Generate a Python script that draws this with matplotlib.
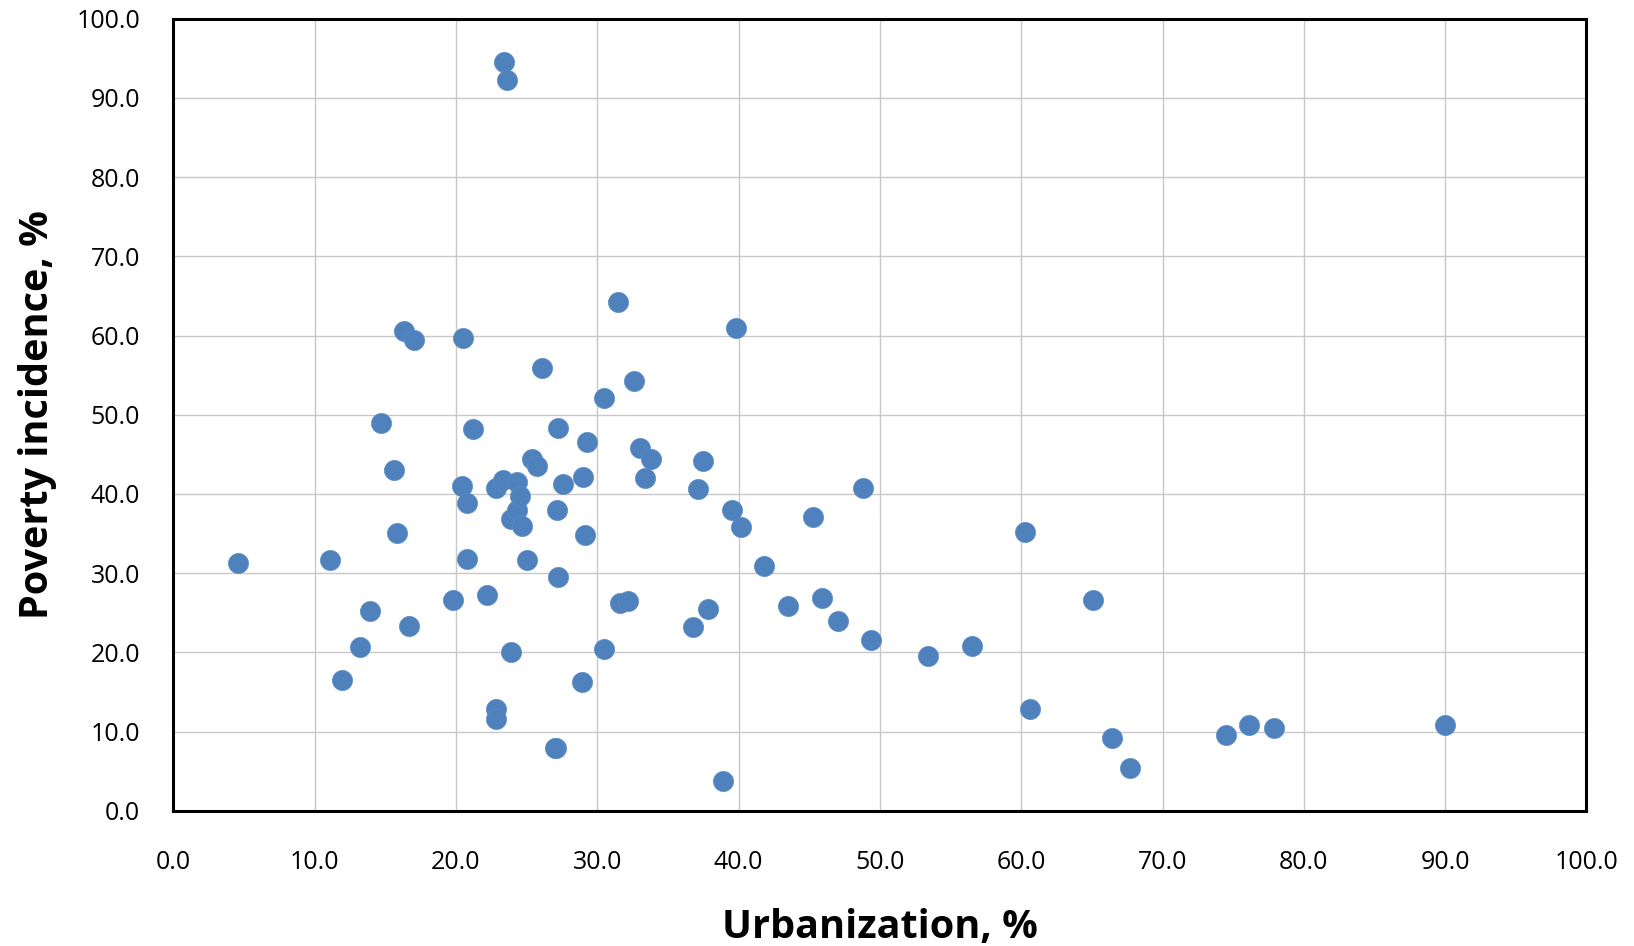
import numpy as np
import matplotlib
matplotlib.use('Agg')
import matplotlib.pyplot as plt

# urbanization (%) and poverty incidence (%)
urbanization = [4.6, 11.1, 11.9, 13.2, 13.9, 14.7, 15.6, 15.8, 16.3, 16.7,
                17.0, 19.8, 20.5, 20.45, 20.8, 20.8, 21.2, 22.2, 22.8, 22.8,
                22.8, 23.4, 23.6, 23.35, 23.9, 23.9, 24.3, 24.3, 24.5, 24.7,
                25.0, 25.4, 25.7, 26.1, 27.15, 27.1, 27.2, 27.0, 27.2, 27.6,
                28.9, 29.0, 29.1, 29.3, 30.45, 30.45, 31.5, 31.6, 32.2, 32.6,
                33.0, 33.4, 33.8, 36.8, 37.1, 37.5, 37.8, 38.9, 39.5, 39.8,
                40.2, 41.8, 43.5, 45.3, 45.9, 47.0, 48.8, 49.4, 53.4, 56.5,
                60.3, 60.6, 65.1, 66.4, 67.7, 74.5, 76.1, 77.9, 90.0]
poverty = [31.3, 31.7, 16.5, 20.7, 25.25, 49.0, 43.0, 35.1, 60.6, 23.3,
           59.4, 26.6, 59.7, 41.0, 38.85, 31.8, 48.2, 27.2, 40.7, 12.9,
           11.6, 94.5, 92.3, 41.7, 36.8, 20.0, 41.5, 37.97, 39.8, 35.9,
           31.6, 44.4, 43.5, 55.9, 38.0, 7.9, 48.3, 7.9, 29.5, 41.25,
           16.3, 42.2, 34.85, 46.6, 52.1, 20.4, 64.2, 26.2, 26.5, 54.3,
           45.8, 42.0, 44.4, 23.2, 40.6, 44.1, 25.5, 3.7, 38.0, 61.0,
           35.8, 30.9, 25.9, 37.1, 26.9, 23.9, 40.8, 21.6, 19.5, 20.8,
           35.2, 12.8, 26.6, 9.2, 5.4, 9.5, 10.8, 10.4, 10.8]

ticks = np.arange(0, 101, 10)

plt.rcParams['font.family'] = ['Open Sans', 'DejaVu Sans']

fig = plt.figure(figsize=(16.34, 9.46), dpi=100)
ax = fig.add_axes([0.1061, 0.1430, 0.8648, 0.8372])

ax.scatter(urbanization, poverty, s=210, color='#4F81BD', edgecolors='#5B8CC6',
           linewidths=0.5, zorder=3)

ax.set_xlim(0, 100)
ax.set_ylim(0, 100)
ax.set_xticks(ticks)
ax.set_yticks(ticks)
ax.set_xticklabels([f'{t:.1f}' for t in ticks])
ax.set_yticklabels([f'{t:.1f}' for t in ticks])
ax.tick_params(length=0, labelsize=18, colors='black')
ax.tick_params(axis='x', pad=28)
ax.tick_params(axis='y', pad=24)
ax.grid(True, color='#C8C8C8', linewidth=1.0, zorder=0)
ax.set_axisbelow(True)
for sp in ax.spines.values():
    sp.set_linewidth(2.2)
    sp.set_color('black')

ax.set_xlabel('Urbanization, %', fontsize=28.5, fontweight='bold', labelpad=24)
ax.set_ylabel('Poverty incidence, %', fontsize=28.5, fontweight='bold', labelpad=14)

fig.savefig('out.png', dpi=100)
